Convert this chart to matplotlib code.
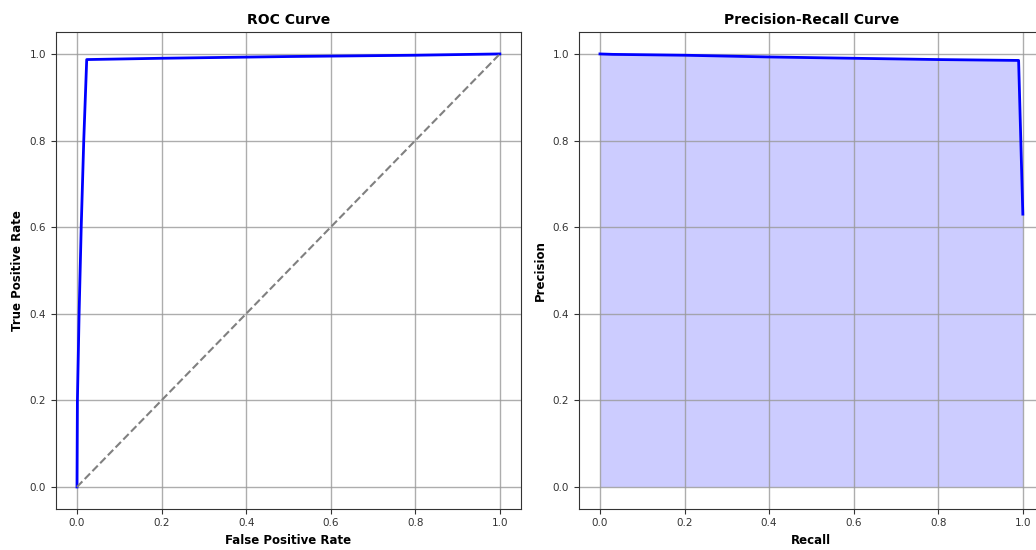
import numpy as np
import matplotlib
matplotlib.use("Agg")
from matplotlib import pyplot as plt

# ROC curve points
fpr = [0.0, 0.001, 0.005, 0.01, 0.016, 0.023, 0.2, 0.5, 0.8, 1.0]
tpr = [0.0, 0.2, 0.4, 0.6, 0.8, 0.987, 0.99, 0.994, 0.997, 1.0]

# precision-recall points
recall = [0.0, 0.03, 0.2, 0.4, 0.6, 0.8, 0.99, 1.0]
precision = [1.0, 0.999, 0.997, 0.993, 0.99, 0.987, 0.985, 0.63]

ticks = [0.0, 0.2, 0.4, 0.6, 0.8, 1.0]

fig = plt.figure(figsize=(10.36, 5.5), dpi=100)
ax1 = fig.add_axes([0.0539, 0.0753, 0.449, 0.866])
ax2 = fig.add_axes([0.5587, 0.0753, 0.449, 0.866])

## left: ROC
ax1.plot(fpr, tpr, color='blue', lw=2)
ax1.plot([0, 1], [0, 1], color='gray', ls='--', lw=1.5)
ax1.set_title('ROC Curve', fontsize=10, fontweight='bold')
ax1.set_xlabel('False Positive Rate', fontsize=8.5, fontweight='bold')
ax1.set_ylabel('True Positive Rate', fontsize=8.5, fontweight='bold')

## right: precision-recall with filled area
ax2.plot(recall, precision, color='blue', lw=2)
ax2.fill_between(recall, precision, color='blue', alpha=0.2, lw=0)
ax2.set_title('Precision-Recall Curve', fontsize=10, fontweight='bold')
ax2.set_xlabel('Recall', fontsize=8.5, fontweight='bold')
ax2.set_ylabel('Precision', fontsize=8.5, fontweight='bold')

for ax in (ax1, ax2):
    ax.set_xlim(-0.05, 1.05)
    ax.set_ylim(-0.05, 1.05)
    ax.set_xticks(ticks)
    ax.set_yticks(ticks)
    ax.tick_params(labelsize=7.5, colors='#333333')
    ax.grid(True, color='#999999', lw=1, alpha=0.8)
    for sp in ax.spines.values():
        sp.set_color('#333333')

fig.savefig('out.png', dpi=100)
